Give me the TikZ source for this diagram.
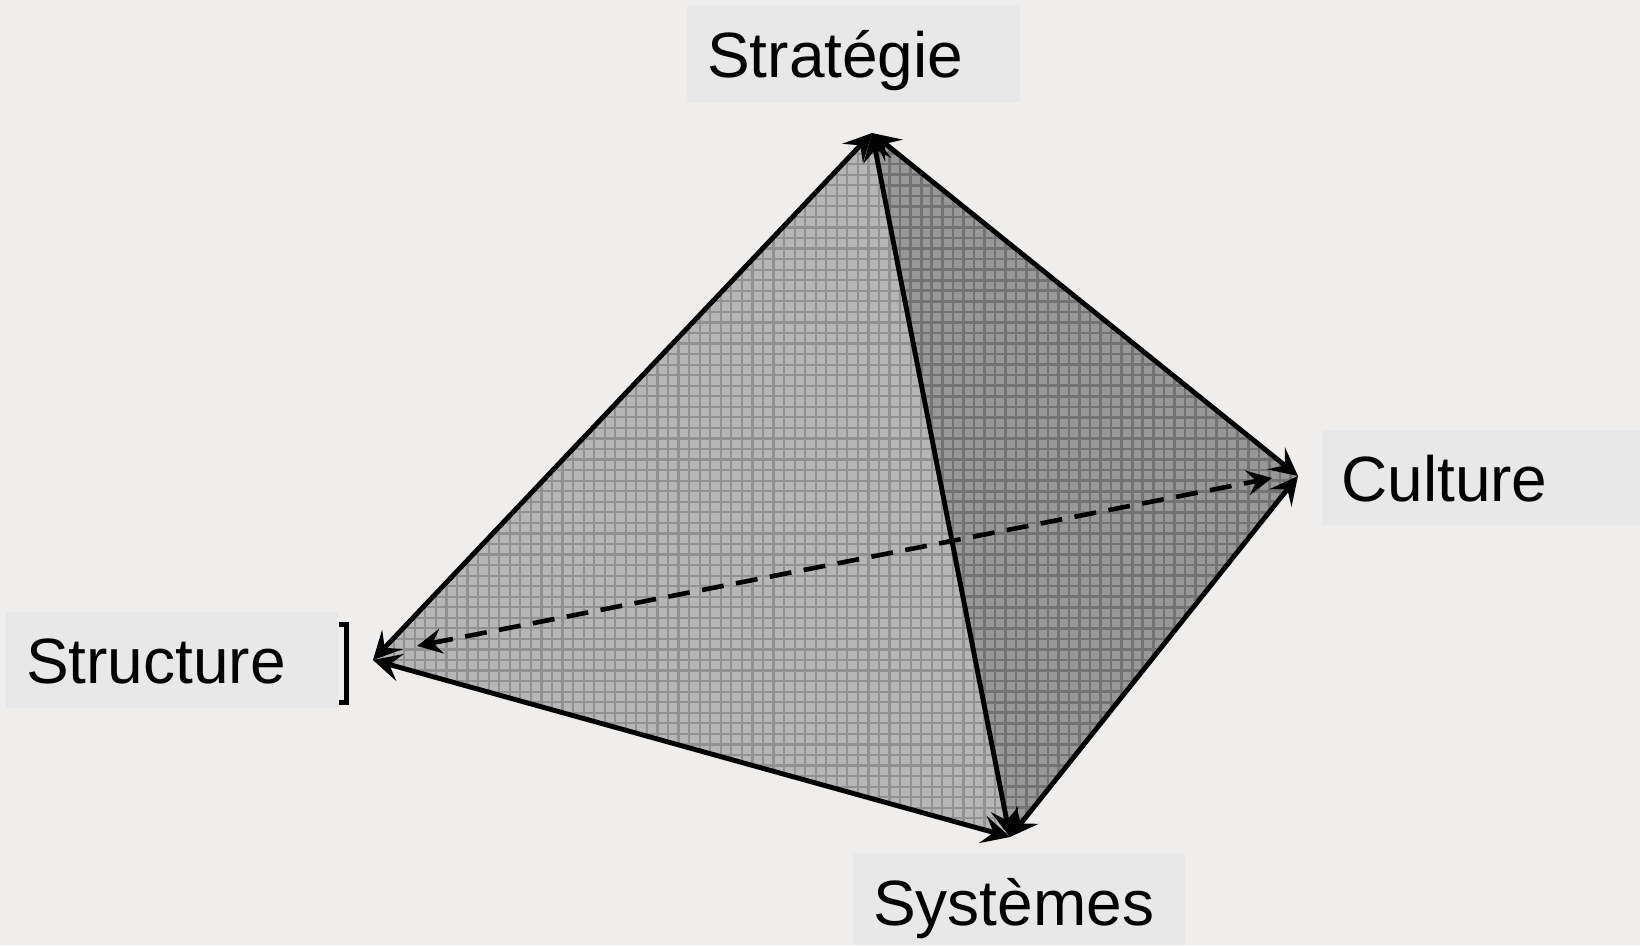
\documentclass[tikz,border=0pt]{standalone}
\usepackage{fontspec}
\setmainfont{Liberation Sans}
\usetikzlibrary{arrows.meta}
\definecolor{bgc}{HTML}{EFEEED}
\definecolor{lblc}{HTML}{E8E8E8}
\definecolor{faceL}{HTML}{B6B6B6}
\definecolor{faceR}{HTML}{989898}
\definecolor{gridL}{HTML}{919191}
\definecolor{gridR}{HTML}{737373}
\tikzset{
  lbltext/.style={anchor=base west,font=\fontsize{64}{70}\selectfont,inner sep=0pt,text=black},
  edge/.style={line width=4.9pt,black,{Stealth[length=28pt,width=28pt,inset=11pt]}-{Stealth[length=28pt,width=28pt,inset=11pt]}},
  dashedge/.style={line width=4.6pt,black,dash pattern=on 22pt off 12.5pt,{Stealth[length=25pt,width=25pt,inset=9pt]}-{Stealth[length=25pt,width=25pt,inset=9pt]}}
}
\begin{document}
\begin{tikzpicture}[x=1pt,y=-1pt]
\useasboundingbox (0,0) rectangle (1640,945);
\fill[bgc] (0,0) rectangle (1640,945);
\coordinate (A) at (872,133);
\coordinate (L) at (373,660);
\coordinate (B) at (1010,837);
\coordinate (R) at (1298,476);
\coordinate (DL) at (417,646);
\coordinate (DR) at (1272,478);
% faces
\fill[faceL] (A) -- (L) -- (B) -- cycle;
\fill[faceR] (A) -- (R) -- (B) -- cycle;
\begin{scope}
\clip (A) -- (L) -- (B) -- cycle;
\begin{scope}[shift={(879,512.3)}]
\draw[gridL,line width=2.2pt] (-530,-390) grid[step=10.55pt] (150,340);
\end{scope}
\end{scope}
\begin{scope}
\clip (A) -- (R) -- (B) -- cycle;
\begin{scope}[shift={(879,512.3)}]
\draw[gridR,line width=2.6pt] (-20,-390) grid[step=10.55pt] (430,340);
\end{scope}
\end{scope}
% edges
\draw[edge] (A) -- (L);
\draw[edge] (L) -- (B);
\draw[edge] (A) -- (B);
\draw[edge] (A) -- (R);
\draw[edge] (R) -- (B);
\draw[dashedge] (DL) -- (DR);
% labels
\fill[lblc] (687,5) rectangle (1020,102);
\fill[lblc] (1322,430) rectangle (1640,525);
\fill[lblc] (6,612) rectangle (338,708);
\fill[lblc] (853,853) rectangle (1185,945);
\node[lbltext] (n1) at (707,77) {Stratégie};
\node[lbltext] (n2) at (1341,501) {Culture};
\node[lbltext] (n3) at (26,683) {Structure};
\node[lbltext] (n4) at (873,925) {Systèmes};
\draw[black,line width=5pt] (339,624) -- (346,624) -- (346,702) -- (339,702);
\end{tikzpicture}
\end{document}
